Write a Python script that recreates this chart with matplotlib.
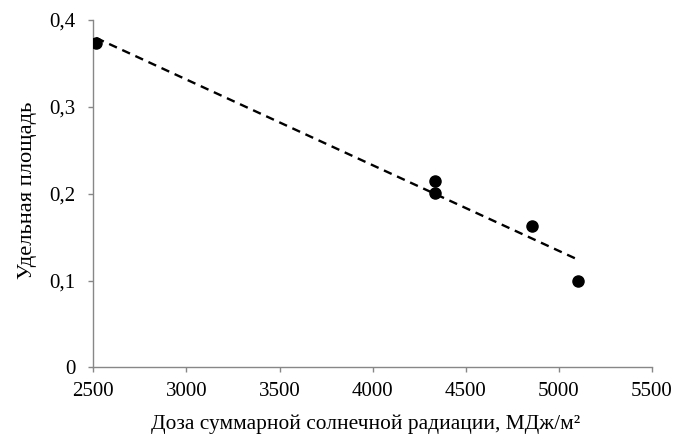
import matplotlib
matplotlib.use("Agg")
import matplotlib.pyplot as plt
import numpy as np

# Solar radiation dose (MJ/m^2) and specific area
dose = [2515, 4336, 4336, 4856, 5103]
area = [0.373, 0.215, 0.201, 0.163, 0.099]

x_ticks = [2500, 3000, 3500, 4000, 4500, 5000, 5500]
y_ticks = [0, 0.1, 0.2, 0.3, 0.4]
y_tick_labels = ["0", "0,1", "0,2", "0,3", "0,4"]

plt.rcParams['font.family'] = ['Liberation Serif', 'DejaVu Serif']

fig = plt.figure(figsize=(6.75, 4.4), dpi=100)
ax = fig.add_axes([0.1382, 0.165, 0.966 - 0.1382, 0.9545 - 0.165])

# linear trend
k, b = np.polyfit(dose, area, 1)
xs = np.array([min(dose), max(dose)])
ax.plot(xs, k * xs + b, color='black', lw=1.7, dashes=(3.6, 2.5), zorder=2)

ax.plot(dose, area, 'o', color='black', markersize=8, zorder=3)

ax.set_xlim(2500, 5500)
ax.set_ylim(0, 0.4)
ax.set_xticks(x_ticks)
ax.set_yticks(y_ticks)
ax.set_yticklabels(y_tick_labels)

for side in ('top', 'right'):
    ax.spines[side].set_visible(False)
for side in ('left', 'bottom'):
    ax.spines[side].set_color('#878787')
    ax.spines[side].set_linewidth(1.0)

ax.tick_params(axis='both', direction='out', length=3.8, width=1.0,
               color='#878787', labelsize=15, labelcolor='black')
ax.tick_params(axis='x', pad=7)
ax.tick_params(axis='y', pad=9)

ax.set_xlabel("Доза суммарной солнечной радиации, МДж/м²", fontsize=15.4, labelpad=6)
ax.xaxis.set_label_coords(0.488, -0.135)
ax.xaxis.label.set_va('top')
ax.set_ylabel("Удельная площадь", fontsize=16.2, labelpad=10)
ax.yaxis.set_label_coords(-0.1, 0.51)

fig.savefig("out.png", dpi=100)
